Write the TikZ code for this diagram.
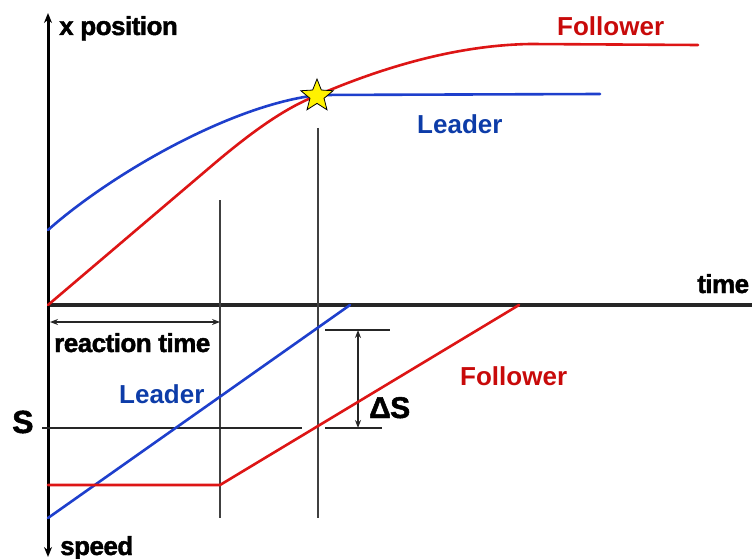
\documentclass[tikz,border=0pt]{standalone}
\usepackage{fontspec}
\setmainfont{Liberation Sans}
\newfontfamily\heavyfont{Liberation Sans Bold}[FakeBold=1.6,LetterSpace=-2]
\usetikzlibrary{arrows.meta,shapes.geometric}
\definecolor{lblue}{HTML}{1E3FCC}
\definecolor{tblue}{HTML}{0D3CA8}
\definecolor{lred}{HTML}{DD1515}
\definecolor{tred}{HTML}{C80A0A}
\begin{document}
\begin{tikzpicture}[x=1pt,y=-1pt,
  axis/.style={line width=3pt,black},
  taxis/.style={line width=3.5pt,black!85},
  guide/.style={line width=1.3pt,draw=black!75},
  dim/.style={line width=1.3pt,draw=black!85},
  curveb/.style={line width=2.6pt,lblue,line cap=round},
  curver/.style={line width=2.6pt,lred,line cap=round},
  lbl/.style={font=\fontsize{26}{26}\bfseries\selectfont,inner sep=0pt,anchor=base west},
  blk/.style={font=\fontsize{26}{26}\heavyfont,inner sep=0pt,anchor=base west},
  big/.style={font=\fontsize{32}{32}\heavyfont,inner sep=0pt,anchor=base west},
  tipbig/.tip={Stealth[length=10pt,width=8pt]},
  tipsm/.tip={Stealth[length=8pt,width=6pt]}]
\useasboundingbox (0,0) rectangle (752,559);
% coordinates
\coordinate (ytop) at (48,13);
\coordinate (ybot) at (48,557);
\coordinate (O) at (48,305);
\coordinate (tend) at (752,305);
\coordinate (bstart) at (48,230);
\coordinate (meet) at (318,95);
\coordinate (bend) at (600,94);
\coordinate (rlin) at (215,163);
\coordinate (rflat) at (530,44);
\coordinate (rend) at (698,45);
\coordinate (g1t) at (220,200);
\coordinate (g1b) at (220,518);
\coordinate (g2t) at (318,128);
\coordinate (g2b) at (318,518);
\coordinate (ra) at (50,322);
\coordinate (rb) at (220,322);
\coordinate (sv0) at (48,518);
\coordinate (sv1) at (350,305);
\coordinate (fv0) at (48,485);
\coordinate (fv1) at (220,485);
\coordinate (fv2) at (519,305);
\coordinate (sl0) at (42,428);
\coordinate (sl1) at (302,428);
\coordinate (sl2) at (325,428);
\coordinate (sl3) at (382,428);
\coordinate (dt0) at (325,330);
\coordinate (dt1) at (390,330);
\coordinate (da) at (358,330);
\coordinate (db) at (358,428);
% axes
\draw[taxis] (O) -- (tend);
\draw[axis,tipbig-tipbig] (ytop) -- (ybot);
% guides
\draw[guide] (g1t) -- (g1b);
\draw[guide] (g2t) -- (g2b);
\draw[dim] (sl0) -- (sl1);
\draw[dim] (sl2) -- (sl3);
\draw[dim] (dt0) -- (dt1);
\draw[dim,tipsm-tipsm] (da) -- (db);
\draw[dim,tipsm-tipsm] (ra) -- (rb);
% position curves
\draw[curveb] (bstart) .. controls (110,175) and (230,105) .. (meet) -- (bend);
\draw[curver] (O) -- (rlin) .. controls (260,125) and (290,106) .. (meet)
  .. controls (400,60) and (470,45) .. (rflat) -- (rend);
% speed lines
\draw[curveb] (sv0) -- (sv1);
\draw[curver] (fv0) -- (fv1) -- (fv2);
% star
\node[star, star points=5, star point ratio=2.3, minimum size=34pt, inner sep=0pt,
  fill=yellow, draw=black, line width=0.8pt] (star) at (317,96) {};
% labels
\node[blk] (xpos) at (59,35) {x position};
\node[lbl,tred] (fol1) at (557,36) {Follower};
\node[lbl,tblue] (lead1) at (417,134) {Leader};
\node[blk] (time) at (697,293) {time};
\node[blk] (react) at (54,352) {reaction time};
\node[lbl,tblue] (lead2) at (119,403) {Leader};
\node[lbl,tred] (fol2) at (460,385) {Follower};
\node[big] (S) at (12,433) {S};
\node[blk,font=\fontsize{30}{30}\heavyfont] (dS) at (369,418) {ΔS};
\node[blk] (speed) at (60,555) {speed};
\end{tikzpicture}
\end{document}
